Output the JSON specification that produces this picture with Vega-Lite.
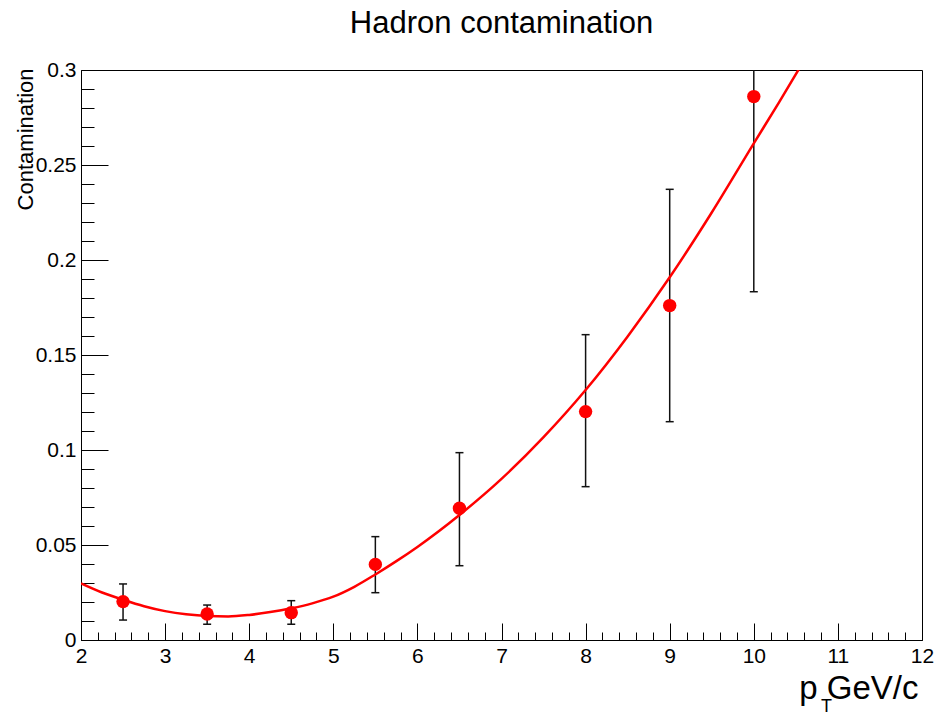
{
  "$schema": "https://vega.github.io/schema/vega-lite/v6.json",
  "autosize": {"type": "none"},
  "width": 841,
  "height": 570,
  "padding": {"left": 81, "top": 70, "right": 16, "bottom": 73},
  "background": "white",
  "title": {"text": "Hadron contamination", "font": "Liberation Sans", "fontSize": 31, "fontWeight": "normal", "color": "black", "anchor": "middle", "baseline": "alphabetic", "offset": -5},
  "config": {
    "view": {"stroke": "black", "strokeWidth": 1},
    "axis": {"grid": false, "tickColor": "black", "tickWidth": 1, "labelFont": "Liberation Sans", "titleFont": "Liberation Sans", "labelColor": "black", "titleColor": "black", "titleFontWeight": "normal"}
  },
  "datasets": {
    "pts": [
      {"pt": 2.5, "c": 0.0202, "lo": 0.0105, "hi": 0.0295},
      {"pt": 3.5, "c": 0.0137, "lo": 0.0083, "hi": 0.0184},
      {"pt": 4.5, "c": 0.0144, "lo": 0.0083, "hi": 0.0207},
      {"pt": 5.5, "c": 0.0398, "lo": 0.0249, "hi": 0.0544},
      {"pt": 6.5, "c": 0.0693, "lo": 0.0391, "hi": 0.0986},
      {"pt": 8, "c": 0.1202, "lo": 0.0807, "hi": 0.1607},
      {"pt": 9, "c": 0.176, "lo": 0.1149, "hi": 0.2372},
      {"pt": 10, "c": 0.286, "lo": 0.1833, "hi": 0.389}
    ],
    "fit": [
      {"pt": 2.0, "c": 0.0298},
      {"pt": 2.25, "c": 0.025},
      {"pt": 2.5, "c": 0.0212},
      {"pt": 2.75, "c": 0.0178},
      {"pt": 3.0, "c": 0.0152},
      {"pt": 3.25, "c": 0.0135},
      {"pt": 3.5, "c": 0.0126},
      {"pt": 3.75, "c": 0.0124},
      {"pt": 4.0, "c": 0.0132},
      {"pt": 4.25, "c": 0.0147},
      {"pt": 4.5, "c": 0.0167},
      {"pt": 4.75, "c": 0.0193},
      {"pt": 5.0, "c": 0.0228},
      {"pt": 5.25, "c": 0.028},
      {"pt": 5.5, "c": 0.0345},
      {"pt": 5.75, "c": 0.0415},
      {"pt": 6.0, "c": 0.049},
      {"pt": 6.5, "c": 0.0658},
      {"pt": 7.0, "c": 0.0848},
      {"pt": 7.5, "c": 0.1068},
      {"pt": 8.0, "c": 0.1316},
      {"pt": 8.5, "c": 0.1598},
      {"pt": 9.0, "c": 0.1909},
      {"pt": 9.5, "c": 0.225},
      {"pt": 10.0, "c": 0.2614},
      {"pt": 10.3, "c": 0.283},
      {"pt": 10.55, "c": 0.3015}
    ]
  },
  "layer": [
    {
      "data": {"name": "pts"},
      "mark": {"type": "rule", "color": "#111111", "strokeWidth": 1.5, "clip": true},
      "encoding": {
        "x": {"field": "pt", "type": "quantitative", "scale": {"domain": [2, 12], "nice": false, "zero": false},
          "axis": {"orient": "bottom", "values": [2, 3, 4, 5, 6, 7, 8, 9, 10, 11, 12], "labels": false, "domain": false, "ticks": true, "tickSize": -17, "title": null}},
        "y": {"field": "lo", "type": "quantitative", "scale": {"domain": [0, 0.3], "nice": false, "zero": false},
          "axis": {"orient": "left", "values": [0, 0.05, 0.1, 0.15, 0.2, 0.25, 0.3], "labels": false, "domain": false, "ticks": true, "tickSize": -27, "title": null}},
        "y2": {"field": "hi"}
      }
    },
    {
      "data": {"name": "pts"},
      "mark": {"type": "tick", "orient": "horizontal", "size": 8, "thickness": 1.5, "color": "#111111", "opacity": 1, "clip": true},
      "encoding": {
        "x": {"field": "pt", "type": "quantitative", "axis": null},
        "y": {"field": "lo", "type": "quantitative", "axis": null}
      }
    },
    {
      "data": {"name": "pts"},
      "mark": {"type": "tick", "orient": "horizontal", "size": 8, "thickness": 1.5, "color": "#111111", "opacity": 1, "clip": true},
      "encoding": {
        "x": {"field": "pt", "type": "quantitative", "axis": null},
        "y": {"field": "hi", "type": "quantitative", "axis": null}
      }
    },
    {
      "data": {"name": "pts"},
      "mark": {"type": "point", "filled": true, "size": 180, "color": "#ff0000", "opacity": 1},
      "encoding": {
        "x": {"field": "pt", "type": "quantitative",
          "axis": {"orient": "bottom", "tickCount": 50, "labels": false, "domain": false, "ticks": true, "tickSize": -8,
            "title": "T", "titleFontSize": 18, "titleAlign": "center", "titleAnchor": "start", "titleBaseline": "alphabetic", "titleX": 745, "titleY": 71}},
        "y": {"field": "c", "type": "quantitative",
          "axis": {"orient": "left", "tickCount": 30, "labels": false, "domain": false, "ticks": true, "tickSize": -13, "title": null}}
      }
    },
    {
      "data": {"name": "fit"},
      "mark": {"type": "line", "color": "#ff0000", "strokeWidth": 2.5, "clip": true, "interpolate": "monotone"},
      "encoding": {
        "x": {"field": "pt", "type": "quantitative",
          "axis": {"orient": "bottom", "values": [2, 3, 4, 5, 6, 7, 8, 9, 10, 11, 12], "ticks": false, "domain": false,
            "labelFontSize": 21, "labelPadding": 5, "labelFlush": false, "labelOverlap": false,
            "title": "p GeV/c", "titleFontSize": 33, "titleAnchor": "end", "titleAlign": "right", "titleBaseline": "alphabetic", "titleX": 837, "titleY": 58}},
        "y": {"field": "c", "type": "quantitative",
          "axis": {"orient": "left", "values": [0, 0.05, 0.1, 0.15, 0.2, 0.25, 0.3], "format": "~g", "ticks": false, "domain": false,
            "labelFontSize": 21, "labelPadding": 5, "labelFlush": false, "labelOverlap": false,
            "title": "Contamination", "titleFontSize": 22, "titleAngle": 270, "titleAnchor": "end", "titleAlign": "right", "titleBaseline": "alphabetic", "titleX": -49, "titleY": -2}}
      }
    }
  ],
  "resolve": {"axis": {"x": "independent", "y": "independent"}}
}
